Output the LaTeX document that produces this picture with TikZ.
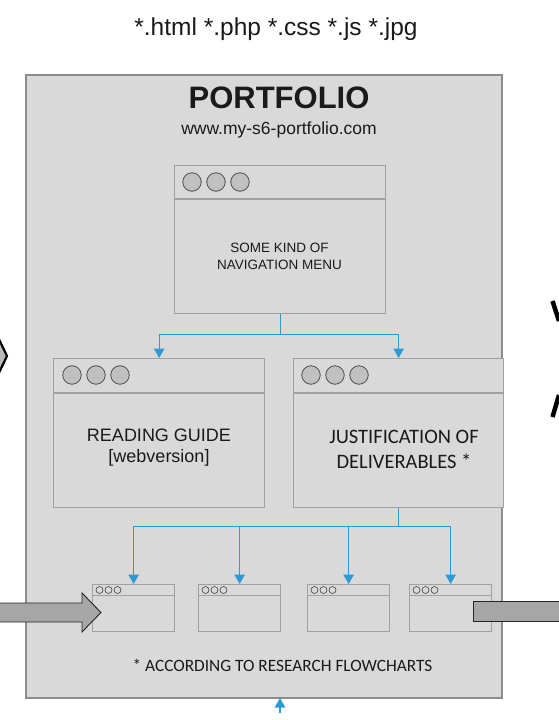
\documentclass[tikz,border=0pt]{standalone}
\usepackage{fontspec}
\setmainfont{Liberation Sans}
\newfontfamily\calib{Carlito}
\usetikzlibrary{arrows.meta}
\definecolor{bg}{HTML}{D9D9D9}
\definecolor{frame}{HTML}{8C8C8C}
\definecolor{boxline}{HTML}{A0A0A0}
\definecolor{conblue}{HTML}{2B9AD6}
\definecolor{circfill}{HTML}{C0C0C0}
\definecolor{arrgray}{HTML}{A6A6A6}
\definecolor{txt}{HTML}{1A1A1A}
\begin{document}
\begin{tikzpicture}[x=1pt,y=-1pt,
  winbox/.style={draw=boxline, line width=1.3pt, fill=bg, inner sep=0, anchor=north west},
  bigcirc/.style={circle, draw=black!70, fill=circfill, minimum size=18.5pt, inner sep=0, line width=0.8pt},
  smallcirc/.style={circle, draw=black!75, minimum size=7pt, inner sep=0, line width=0.6pt},
  hdr/.style={draw=boxline, line width=1.3pt},
  conn/.style={draw=conblue, line width=1.2pt},
  arr/.style={conn, -{Triangle[width=10.5pt,length=9.5pt]}},
  lbl/.style={text=txt, align=center, inner sep=0},
  grayarrow/.style={fill=arrgray, draw=black!85, line width=0.9pt}
]
\useasboundingbox (0,0) rectangle (558,720);
\fill[white] (0,0) rectangle (558,720);

% top file types
\node[lbl, font=\fontsize{24.5}{28}\selectfont] (ext) at (276,29.5) {*.html *.php *.css *.js *.jpg};

% outer portfolio frame
\node[draw=frame, fill=bg, line width=2.5pt, minimum width=476pt, minimum height=623pt, anchor=north west, inner sep=0] (port) at (24.5,73.5) {};
\node[lbl, font=\bfseries\fontsize{31}{35}\selectfont] (title) at (279,98) {PORTFOLIO};
\node[lbl, font=\fontsize{17.5}{20}\selectfont] (url) at (279,130) {www.my-s6-portfolio.com};

% navigation window
\node[winbox, minimum width=211pt, minimum height=148pt] (nav) at (174,165) {};
\draw[hdr] (174,199) -- (385,199);
\node[bigcirc] (nc1) at (192,182) {};
\node[bigcirc] (nc2) at (216,182) {};
\node[bigcirc] (nc3) at (240,182) {};
\node[lbl, font=\fontsize{13.5}{17}\selectfont] (navtxt) at (279.5,256) {SOME KIND OF\\NAVIGATION MENU};

% reading guide window
\node[winbox, minimum width=211pt, minimum height=149pt] (rg) at (53,358) {};
\draw[hdr] (53,393) -- (264,393);
\node[bigcirc] (rc1) at (72,375) {};
\node[bigcirc] (rc2) at (96,375) {};
\node[bigcirc] (rc3) at (120,375) {};
\node[lbl, font=\fontsize{18}{21}\selectfont] (rgtxt) at (159,448) {READING GUIDE\\{}[webversion]};

% justification window
\node[winbox, minimum width=210pt, minimum height=149pt] (jd) at (293,358) {};
\draw[hdr] (293,393) -- (503,393);
\node[bigcirc] (jc1) at (311,375) {};
\node[bigcirc] (jc2) at (335,375) {};
\node[bigcirc] (jc3) at (359,375) {};
\node[lbl, font=\calib\fontsize{20.5}{25}\selectfont] (jdtxt) at (404,449) {JUSTIFICATION OF\\DELIVERABLES *};

% small windows
\foreach \n/\x in {s1/92, s2/198, s3/307, s4/409}{
  \node[winbox, minimum width=82pt, minimum height=47pt] (\n) at (\x,584) {};
  \draw[hdr, line width=1pt] (\x,595) -- ++(82,0);
  \node[smallcirc] (\n c1) at (\x+7.5,590) {};
  \node[smallcirc] (\n c2) at (\x+16.5,590) {};
  \node[smallcirc] (\n c3) at (\x+25.5,590) {};
}

% connectors
\draw[conn] (nav.south) -- ++(0,20) coordinate (n2);
\draw[arr] (n2) -| (rg.north);
\draw[arr] (n2) -| (jd.north);
\draw[conn] (jd.south) -- ++(0,18) coordinate (j2);
\draw[arr] (j2) -| (s1.north);
\draw[arr] (j2) -| (s2.north);
\draw[arr] (j2) -| (s3.north);
\draw[arr] (j2) -| (s4.north);

% footnote
\node[lbl, font=\calib\fontsize{17.3}{20}\selectfont] (foot) at (282.5,665) {* ACCORDING TO RESEARCH FLOWCHARTS};

% gray arrows
\draw[grayarrow] (-2,603) -- (82,603) -- (82,593) -- (101,612.5) -- (82,632) -- (82,622) -- (-2,622) -- cycle;
\draw[grayarrow] (562,601) -- (473,601) -- (473,621) -- (562,621);

% bottom blue arrowhead
\coordinate (btail) at (280,713);
\coordinate (btip) at (280,698);
\draw[arr] (btail) -- (btip);

% partial shapes at edges
\draw[fill=gray!55, draw=black, line width=2.2pt, line join=miter] (-4,333) -- (7,356) -- (-4,379);
\draw[line width=4.5pt] (552.5,301) -- (559,321);
\draw[line width=4.5pt] (559,395) -- (552.5,417);
\end{tikzpicture}
\end{document}
